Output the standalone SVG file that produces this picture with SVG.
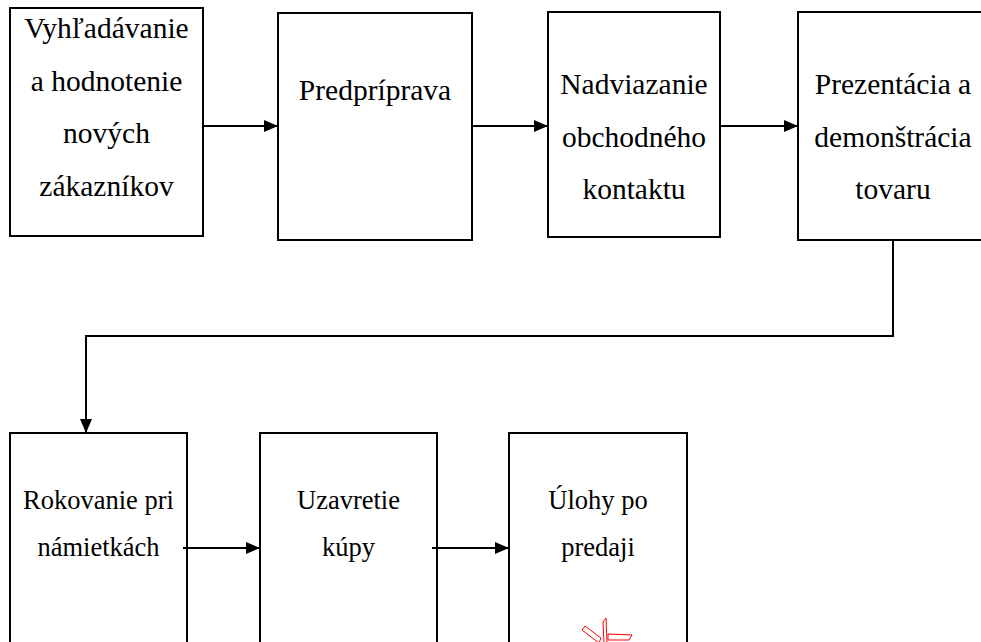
<svg xmlns="http://www.w3.org/2000/svg" width="981" height="642" viewBox="0 0 981 642">
<style>
.box{fill:#fff;stroke:#000;stroke-width:2}
.t{font-family:"Liberation Serif","Times New Roman",serif;font-size:29.5px;fill:#000;text-anchor:middle}
.b{font-size:26.5px}
.c{fill:none;stroke:#000;stroke-width:2}
.stamp{fill:none;stroke:#f00;stroke-width:1}
</style>
<defs>
<marker id="ah" markerUnits="userSpaceOnUse" markerWidth="14" markerHeight="12" refX="14" refY="6" orient="auto">
<path d="M0,0 L14,6 L0,12 z" fill="#000"/>
</marker>
</defs>
<rect width="981" height="642" fill="#fff"/>
<g id="n1">
<rect class="box" x="10" y="8" width="193" height="228"/>
<text class="t" x="106.5" y="38">Vyhľadávanie</text>
<text class="t" x="106.5" y="90.5">a hodnotenie</text>
<text class="t" x="106.5" y="143">nových</text>
<text class="t" x="106.5" y="195.5">zákazníkov</text>
</g>
<g id="n2">
<rect class="box" x="278" y="13" width="194" height="227"/>
<text class="t" x="375" y="99.5">Predpríprava</text>
</g>
<g id="n3">
<rect class="box" x="548" y="12" width="172" height="225"/>
<text class="t" x="634" y="94">Nadviazanie</text>
<text class="t" x="634" y="146.5">obchodného</text>
<text class="t" x="634" y="198.5">kontaktu</text>
</g>
<g id="n4">
<rect class="box" x="798" y="12" width="190" height="228"/>
<text class="t" x="893" y="94">Prezentácia a</text>
<text class="t" x="893" y="146.5">demonštrácia</text>
<text class="t" x="893" y="198.5">tovaru</text>
</g>
<g id="n5">
<rect class="box" x="10" y="433" width="177" height="230"/>
<text class="t b" x="98.5" y="509">Rokovanie pri</text>
<text class="t b" x="98.5" y="556">námietkách</text>
</g>
<g id="n6">
<rect class="box" x="260" y="433" width="177" height="230"/>
<text class="t b" x="348.5" y="509">Uzavretie</text>
<text class="t b" x="348.5" y="556">kúpy</text>
</g>
<g id="n7">
<rect class="box" x="509" y="433" width="178" height="230"/>
<text class="t b" x="598" y="509">Úlohy po</text>
<text class="t b" x="598" y="556">predaji</text>
</g>
<g id="connectors">
<line class="c" x1="203" y1="126" x2="278" y2="126" marker-end="url(#ah)"/>
<line class="c" x1="472" y1="126" x2="548" y2="126" marker-end="url(#ah)"/>
<line class="c" x1="720" y1="126" x2="798" y2="126" marker-end="url(#ah)"/>
<polyline class="c" points="893,240 893,336 86,336 86,433" marker-end="url(#ah)"/>
<line class="c" x1="183" y1="548" x2="260" y2="548" marker-end="url(#ah)"/>
<line class="c" x1="432" y1="548" x2="509" y2="548" marker-end="url(#ah)"/>
</g>
<g id="mark">
<polygon class="stamp" points="582,630 585,626 601,638 599,643"/>
<polygon class="stamp" points="603,622 606,618 607,643 604,643"/>
<polygon class="stamp" points="608,634 632,635 629,640 608,640"/>
</g>
</svg>
